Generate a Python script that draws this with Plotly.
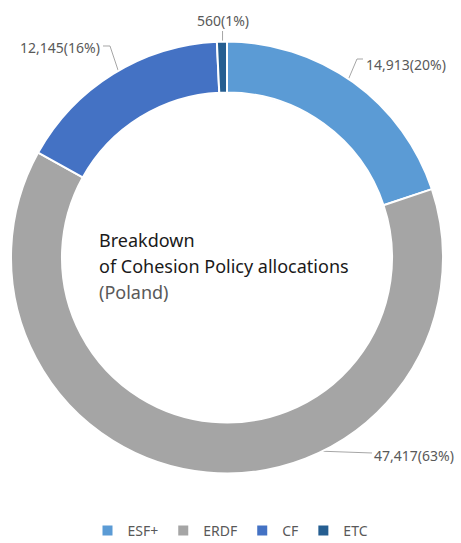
import math
import plotly.graph_objects as go

W, H = 461, 543

categories = ["ESF+", "ERDF", "CF", "ETC"]
values = [14913, 47417, 12145, 560]
colors = ["#5B9BD5", "#A5A5A5", "#4472C4", "#255E91"]
title_lines = ["Breakdown", "of Cohesion Policy allocations", "(Poland)"]

total = sum(values)
labels_txt = [f"{v:,}({round(v / total * 100)}%)" for v in values]

# geometry (pixels)
CX, CY, R = 227, 257.5, 216
HOLE = 0.764
RMID = R * (1 + HOLE) / 2


def px(x, y):
    return x / W, 1 - y / H


fig = go.Figure(go.Pie(
    labels=categories,
    values=values,
    sort=False,
    direction="clockwise",
    rotation=0,
    hole=HOLE,
    marker=dict(colors=colors, line=dict(color="white", width=2)),
    textinfo="none",
    hoverinfo="label+value+percent",
    domain=dict(x=[(CX - R) / W, (CX + R) / W], y=[1 - (CY + R) / H, 1 - (CY - R) / H]),
))

# slice-midpoint anchors from data
anchors = []
cum = 0
for v in values:
    mid = (cum + v / 2) / total
    cum += v
    th = 2 * math.pi * mid
    anchors.append((CX + RMID * math.sin(th), CY - RMID * math.cos(th)))

# label layout: (text anchor x, y, xanchor, leader path points after anchor)
label_layout = [
    (364, 64, "left", [(357, 59), (363, 59)]),
    (372, 455, "left", [(372, 453)]),
    (102, 47, "right", [(110, 46), (103, 46)]),
    (223, 20, "center", None),
]

shapes = []
annotations = []
for i, (lx, ly, xa, pts) in enumerate(label_layout):
    ax_, ay_ = anchors[i]
    if pts is None:
        pts = [(ax_, 31)]
    path_pts = [(ax_, ay_)] + pts
    path = "M " + " L ".join(f"{px(x, y)[0]:.5f},{px(x, y)[1]:.5f}" for x, y in path_pts)
    shapes.append(dict(type="path", path=path, xref="paper", yref="paper",
                       line=dict(color="#A6A6A6", width=1), layer="below"))
    xp, yp = px(lx, ly)
    annotations.append(dict(x=xp, y=yp, xref="paper", yref="paper", text=labels_txt[i],
                            showarrow=False, xanchor=xa, yanchor="middle",
                            font=dict(size=14, color="#595959", family="Noto Sans")))

title_colors = ["#1a1a1a", "#1a1a1a", "#595959"]
title_y = [240, 266, 292]
for t, c, y in zip(title_lines, title_colors, title_y):
    xp, yp = px(97, y)
    annotations.append(dict(x=xp, y=yp, xref="paper", yref="paper", text=t,
                            showarrow=False, xanchor="left", yanchor="middle",
                            font=dict(size=18, color=c, family="Noto Sans")))

fig.update_layout(
    width=W, height=H,
    margin=dict(l=0, r=0, t=0, b=0, autoexpand=False),
    paper_bgcolor="white",
    plot_bgcolor="white",
    shapes=shapes,
    annotations=annotations,
    showlegend=True,
    legend=dict(orientation="h", x=0.5, xanchor="center", xref="container",
                y=1 - 531 / H, yanchor="middle", yref="container",
                font=dict(size=14, color="#595959", family="Noto Sans"),
                itemclick=False, itemdoubleclick=False),
)

fig.write_html("out.html")
